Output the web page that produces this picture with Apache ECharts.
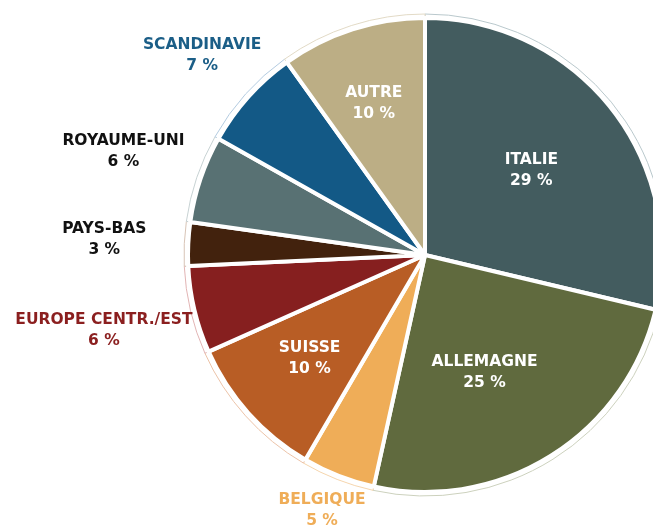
<!DOCTYPE html>
<html>
<head>
<meta charset="utf-8">
<script src="https://cdn.jsdelivr.net/npm/echarts@6/dist/echarts.min.js"></script>
<style>
html,body{margin:0;padding:0;background:#fff;}
#chart{width:653px;height:528px;}
</style>
</head>
<body>
<div id="chart"></div>
<script>
var regions = ["ITALIE", "ALLEMAGNE", "BELGIQUE", "SUISSE", "EUROPE CENTR./EST", "PAYS-BAS", "ROYAUME-UNI", "SCANDINAVIE", "AUTRE"];
var shares = [29, 25, 5, 10, 6, 3, 6, 7, 10];
var colors = ["#435c5f", "#606a3e", "#efad58", "#b85d25", "#861f1f", "#42220d", "#587173", "#135986", "#bcae85"];
var paleColors = ["#b9c8cc", "#ccd1bd", "#f5d5ad", "#ecc3a8", "#e2b4b4", "#d8c4b6", "#c7d2d3", "#b3cbe0", "#e2dac6"];
var labelInside = [true, true, false, true, false, false, false, false, true];
var labelColors = ["#fff", "#fff", "#efad58", "#fff", "#8b1f1f", "#111", "#111", "#1b5e87", "#fff"];

// nudges for the label boxes (pixels), to sit like the original
var labelNudge = {
	"ITALIE": [11, -9],
	"ALLEMAGNE": [-5, 15],
	"SUISSE": [-25, 22],
	"AUTRE": [-14, -36],
	"SCANDINAVIE": [-22, -29],
	"ROYAUME-UNI": [-49, -22],
	"PAYS-BAS": [-55, -4],
	"EUROPE CENTR./EST": [-62, 17],
	"BELGIQUE": [1, 18]
};

var s = echarts.init(document.getElementById("chart"));

var mainData = [], ringData = [];
for (var i = 0; i < regions.length; i++) {
	mainData.push({
		name: regions[i],
		value: shares[i],
		itemStyle: {color: colors[i]},
		label: {
			position: labelInside[i] ? "inside" : "outside",
			color: labelColors[i]
		}
	});
	ringData.push({
		name: regions[i],
		value: shares[i],
		itemStyle: {color: "#fff", borderColor: paleColors[i]}
	});
}

var c = {
	animation: false,
	series: [{
		type: "pie",
		center: [425, 255],
		radius: [0, 241],
		startAngle: 90,
		clockwise: true,
		silent: true,
		label: {show: false},
		labelLine: {show: false},
		itemStyle: {borderWidth: 1},
		data: ringData
	}, {
		type: "pie",
		center: [425, 255],
		radius: [0, 237],
		startAngle: 90,
		clockwise: true,
		itemStyle: {borderColor: "#fff", borderWidth: 4},
		label: {
			fontFamily: "DejaVu Sans",
			fontWeight: "bold",
			fontSize: 15.5,
			lineHeight: 21,
			align: "center",
			overflow: "none",
			alignTo: "none",
			formatter: function (p) { return p.name + "\n" + p.value + " %"; }
		},
		labelLine: {show: false, length: 18, length2: 6},
		labelLayout: function (p) {
			var n = labelNudge[regions[p.dataIndex]] || [0, 0];
			var o = {dx: n[0], dy: n[1]};
			if (!labelInside[p.dataIndex]) {
				o.align = "center";
			}
			return o;
		},
		data: mainData
	}]
};
s.setOption(c);
</script>
</body>
</html>
